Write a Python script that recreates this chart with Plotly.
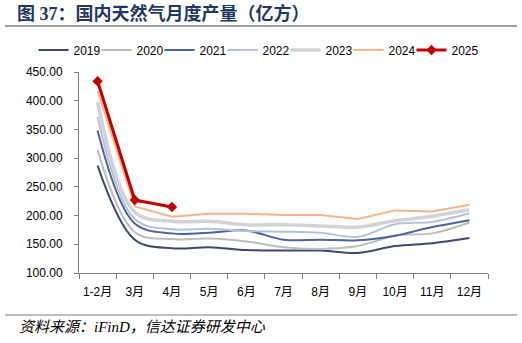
import plotly.graph_objects as go

months = ["1-2月", "3月", "4月", "5月", "6月", "7月", "8月", "9月", "10月", "11月", "12月"]

y2019 = [287, 158, 143, 145, 140, 139, 139, 135, 147, 152, 161]
y2020 = [314, 171, 159, 160, 155, 145, 142, 147, 165, 169, 188]
y2021 = [348, 186, 169, 170, 174, 158, 158, 157, 165, 180, 192]
y2022 = [372, 194, 176, 177, 173, 172, 170, 163, 185, 189, 204]
y2023 = [398, 206, 190, 190, 184, 184, 182, 180, 191, 199, 210]
y2024 = [417, 216, 198, 203, 203, 201, 201, 194, 209, 207, 219]
y2025 = [434, 227, 215]

yticks = [100, 150, 200, 250, 300, 350, 400, 450]

series = [
    ("2019", y2019, "#3E4A6D", 2.0, "spline"),
    ("2020", y2020, "#BDBDBD", 2.0, "spline"),
    ("2021", y2021, "#4A63A3", 2.0, "spline"),
    ("2022", y2022, "#B3C2DC", 2.0, "spline"),
    ("2023", y2023, "#D3D3D3", 3.5, "spline"),
    ("2024", y2024, "#F7B48A", 2.0, "linear"),
]

# left pixel of each legend entry's text (layout, not data)
legend_text_px = [75.5, 138.5, 201.5, 264.5, 327.5, 390.5, 453.5]
L, R, T, B, W, H = 79, 34, 72, 70, 522, 343
PW, PH = W - L - R, H - T - B

def px2x(px):
    return (px - L) / PW

def py2y(py):
    return (H - B - py) / PH

legend_names = ["legend"] + [f"legend{i}" for i in range(2, 8)]

fig = go.Figure()
for i, (name, vals, color, w, shape) in enumerate(series):
    fig.add_trace(go.Scatter(
        x=months[:len(vals)], y=vals, name=name, mode="lines",
        line=dict(color=color, width=w, shape=shape, smoothing=1.0),
        legend=legend_names[i],
    ))
fig.add_trace(go.Scatter(
    x=months[:len(y2025)], y=y2025, name="2025", mode="lines+markers",
    line=dict(color="#C00000", width=3),
    marker=dict(symbol="diamond", size=8, color="#C00000"),
    legend=legend_names[6],
))

tickfont = dict(family="Liberation Sans, Arial, Noto Sans CJK SC", size=12, color="#000000")

legend_layout = {}
for i, ln in enumerate(legend_names):
    legend_layout[ln] = dict(
        orientation="h", x=px2x(legend_text_px[i] - 42), xanchor="left",
        y=py2y(50), yanchor="middle",
        font=dict(family="Liberation Sans, Arial", size=12, color="#000000"),
        itemwidth=30, bgcolor="rgba(0,0,0,0)", borderwidth=0,
    )

fig.update_layout(
    width=W, height=H,
    margin=dict(l=L, r=R, t=T, b=B),
    paper_bgcolor="white", plot_bgcolor="white",
    showlegend=True,
    **legend_layout,
    xaxis=dict(
        type="category", categoryorder="array", categoryarray=months,
        range=[-0.5, 10.5], showgrid=False, zeroline=False,
        showline=True, linecolor="#7F7F7F", linewidth=1,
        ticks="outside", ticklen=5, tickcolor="#7F7F7F", tickson="boundaries",
        tickfont=tickfont, ticklabelstandoff=8, tickangle=0,
    ),
    yaxis=dict(
        range=[100, 450], tickvals=yticks, tickformat=".2f",
        showgrid=False, zeroline=False,
        showline=True, linecolor="#7F7F7F", linewidth=1,
        ticks="outside", ticklen=4, tickcolor="#7F7F7F",
        tickfont=tickfont, ticklabelstandoff=9,
    ),
    shapes=[
        dict(type="line", xref="paper", yref="paper",
             x0=px2x(5), x1=px2x(517), y0=py2y(26), y1=py2y(26),
             line=dict(color="#7F7F7F", width=1.5)),
        dict(type="line", xref="paper", yref="paper",
             x0=px2x(5), x1=px2x(517), y0=py2y(315), y1=py2y(315),
             line=dict(color="#7F7F7F", width=1.2)),
    ],
    annotations=[
        dict(text="<b>图 37：国内天然气月度产量（亿方）</b>",
             xref="paper", yref="paper", x=px2x(15), y=py2y(14),
             xanchor="left", yanchor="middle", showarrow=False,
             font=dict(family="Liberation Serif, Noto Sans CJK SC", size=18, color="#1F3864")),
        dict(text="<i>资料来源：iFinD，信达证券研发中心</i>",
             xref="paper", yref="paper", x=px2x(17), y=py2y(327),
             xanchor="left", yanchor="middle", showarrow=False,
             font=dict(family="Liberation Serif, Noto Sans CJK SC", size=15, color="#000000")),
    ],
)

fig.write_html("out.html")
